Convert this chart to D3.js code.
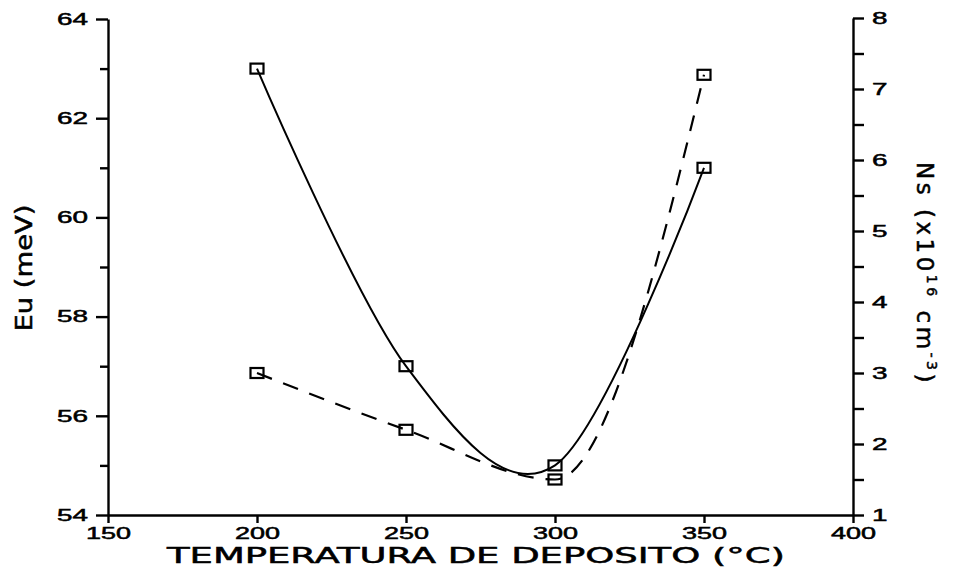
<!DOCTYPE html>
<html>
<head>
<meta charset="utf-8">
<script src="https://cdn.jsdelivr.net/npm/d3@7/dist/d3.min.js"></script>
<style>
  html, body { margin: 0; padding: 0; background: #fff; }
  svg { display: block; font-family: "DejaVu Sans", sans-serif; }
  .axis path, .axis line { stroke: #000; stroke-width: 2.4; }
  .axis text { fill: #000; font-size: 16.5px; stroke: #000; stroke-width: 0.5; }
  .title { fill: #000; stroke: #000; stroke-width: 0.5; }
</style>
</head>
<body>
<svg id="chart" width="957" height="573"></svg>
<script>
// Deposition temperature (°C)
const temperatures = [200, 250, 300, 350];
// Urbach energy Eu (meV), left axis, solid line
const euValues = [63.0, 57.0, 55.0, 61.0];
// Ns (x10^16 cm^-3), right axis, dashed line
const nsValues = [3.0, 2.2, 1.5, 7.2];

const xTicks = [150, 200, 250, 300, 350, 400];
const leftMajorTicks = [54, 56, 58, 60, 62, 64];
const leftMinorTicks = [55, 57, 59, 61, 63];
const rightMajorTicks = [1, 2, 3, 4, 5, 6, 7, 8];
const rightMinorTicks = [1.5, 2.5, 3.5, 4.5, 5.5, 6.5, 7.5];

const svg = d3.select("#chart");

const x = d3.scaleLinear().domain([150, 400]).range([108, 853]);
const yL = d3.scaleLinear().domain([54, 64]).range([515, 19]);
const yR = d3.scaleLinear().domain([1, 8]).range([515, 18]);

// widen digits like a plotter font
function stretchLabels(sel, perChar) {
  sel.selectAll("text")
    .attr("textLength", function () { return this.textContent.length * perChar; })
    .attr("lengthAdjust", "spacingAndGlyphs");
}

// left axis
const gL = svg.append("g").attr("class", "axis").attr("transform", `translate(${x.range()[0]},0)`);
gL.call(d3.axisLeft(yL).tickValues(leftMajorTicks).tickSize(12).tickSizeOuter(0).tickPadding(8).tickFormat(d3.format("d")));
stretchLabels(gL, 15.5);
svg.append("g").attr("class", "axis").attr("transform", `translate(${x.range()[0]},0)`)
  .call(d3.axisLeft(yL).tickValues(leftMinorTicks).tickSize(8).tickFormat(""))
  .select(".domain").remove();

// right axis
const gR = svg.append("g").attr("class", "axis").attr("transform", `translate(${x.range()[1]},0)`);
gR.call(d3.axisRight(yR).tickValues(rightMajorTicks).tickSize(11).tickSizeOuter(0).tickPadding(8).tickFormat(d3.format("d")));
stretchLabels(gR, 15.5);
svg.append("g").attr("class", "axis").attr("transform", `translate(${x.range()[1]},0)`)
  .call(d3.axisRight(yR).tickValues(rightMinorTicks).tickSize(11).tickFormat(""))
  .select(".domain").remove();

// bottom axis
const gB = svg.append("g").attr("class", "axis").attr("transform", `translate(0,${yL.range()[0]})`);
gB.call(d3.axisBottom(x).tickValues(xTicks).tickSize(8).tickSizeOuter(0).tickPadding(4).tickFormat(d3.format("d")));
stretchLabels(gB, 15);

// axis titles
svg.append("text")
  .attr("class", "title")
  .attr("x", 476).attr("y", 563)
  .attr("text-anchor", "middle")
  .attr("font-size", 21)
  .attr("textLength", 618).attr("lengthAdjust", "spacingAndGlyphs")
  .text("TEMPERATURA DE DEPOSITO (°C)");

svg.append("text")
  .attr("class", "title")
  .attr("transform", "translate(32,268) rotate(-90)")
  .attr("text-anchor", "middle")
  .attr("font-size", 23)
  .attr("textLength", 127).attr("lengthAdjust", "spacingAndGlyphs")
  .text("Eu (meV)");

const ns = svg.append("text")
  .attr("class", "title")
  .attr("transform", "translate(917,274) rotate(90)")
  .attr("text-anchor", "middle")
  .attr("font-size", 23)
  .attr("letter-spacing", 3.5);
ns.append("tspan").text("Ns (x10");
ns.append("tspan").attr("font-size", 14).attr("dy", -10).text("16");
ns.append("tspan").attr("dy", 10).text(" cm");
ns.append("tspan").attr("font-size", 14).attr("dy", -10).text("-3");
ns.append("tspan").attr("dy", 10).text(")");

// curves
const euPts = temperatures.map((t, i) => [x(t), yL(euValues[i])]);
const nsPts = temperatures.map((t, i) => [x(t), yR(nsValues[i])]);

svg.append("path")
  .attr("d", d3.line().curve(d3.curveCatmullRom.alpha(0))(euPts))
  .attr("fill", "none").attr("stroke", "#000").attr("stroke-width", 2);

svg.append("path")
  .attr("d", d3.line().curve(d3.curveMonotoneX)(nsPts))
  .attr("fill", "none").attr("stroke", "#000").attr("stroke-width", 2.2)
  .attr("stroke-dasharray", "16,12");

// open square markers
const markers = euPts.concat(nsPts);
svg.selectAll("rect.marker").data(markers).enter().append("rect")
  .attr("class", "marker")
  .attr("x", d => d[0] - 6.5).attr("y", d => d[1] - 5)
  .attr("width", 13).attr("height", 10)
  .attr("fill", "none").attr("stroke", "#000").attr("stroke-width", 2.2);
</script>
</body>
</html>
